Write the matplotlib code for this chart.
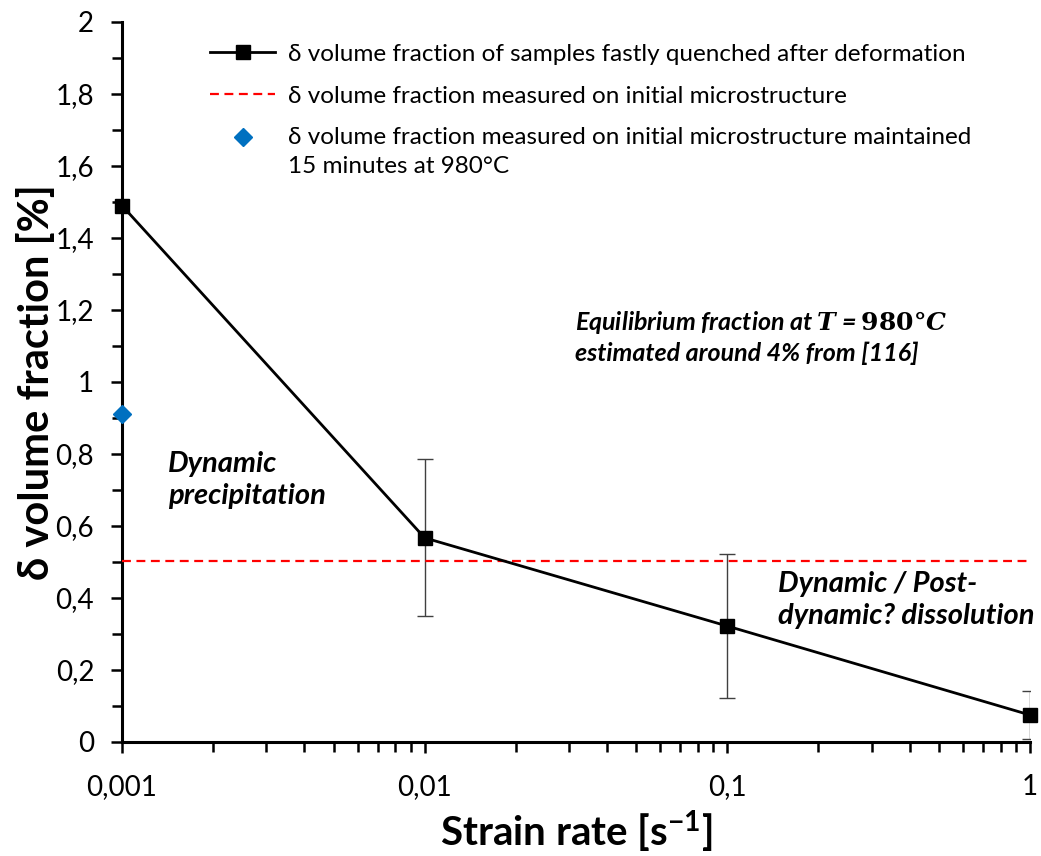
import matplotlib
matplotlib.use("Agg")
import matplotlib.pyplot as plt
from matplotlib.ticker import FixedLocator, MultipleLocator, LogLocator, NullFormatter
from matplotlib.legend_handler import HandlerLine2D

# Data
strain_rate = [0.001, 0.01, 0.1, 1]
delta_frac = [1.49, 0.567, 0.322, 0.075]
delta_err = [0.0, 0.218, 0.20, 0.068]
initial_frac = 0.504
held_rate = [0.001]
held_frac = [0.91]
x_ticks = [0.001, 0.01, 0.1, 1]
x_labels = ["0,001", "0,01", "0,1", "1"]
y_ticks = [0, 0.2, 0.4, 0.6, 0.8, 1.0, 1.2, 1.4, 1.6, 1.8, 2.0]
y_labels = ["0", "0,2", "0,4", "0,6", "0,8", "1", "1,2", "1,4", "1,6", "1,8", "2"]

plt.rcParams['font.family'] = ['Lato', 'DejaVu Sans']
plt.rcParams['mathtext.fontset'] = 'dejavuserif'


class ShiftedHandler(HandlerLine2D):
    def __init__(self, shift, **kw):
        super().__init__(**kw)
        self.shift = shift

    def create_artists(self, legend, orig_handle, xdescent, ydescent, width,
                       height, fontsize, trans):
        artists = super().create_artists(legend, orig_handle, xdescent, ydescent,
                                         width, height, fontsize, trans)
        for a in artists:
            a.set_ydata([y + self.shift for y in a.get_ydata()])
        return artists


fig = plt.figure(figsize=(10.41, 8.56), dpi=100)
ax = fig.add_axes([0.1172, 0.1332, 0.9894 - 0.1172, 0.9743 - 0.1332])
ax.set_xscale('log')
ax.set_xlim(0.001, 1)
ax.set_ylim(0, 2)

ax.errorbar(strain_rate[1:], delta_frac[1:], yerr=delta_err[1:], fmt='none',
            ecolor='#404040', elinewidth=1, capsize=6, capthick=1, zorder=2)
line_h, = ax.plot(strain_rate, delta_frac, color='black', lw=2, marker='s',
                  markersize=10, markerfacecolor='black', zorder=4, clip_on=False,
                  label="δ volume fraction of samples fastly quenched after deformation")
red_h = ax.axhline(initial_frac, color='red', lw=1.6, ls=(0, (4, 2.5)), zorder=3,
                   label="δ volume fraction measured on initial microstructure")
blue_h, = ax.plot(held_rate, held_frac, ls='none', marker='D', markersize=9,
                  color='#0070C0', zorder=5, clip_on=False,
                  label="δ volume fraction measured on initial microstructure maintained\n15 minutes at 980°C")

for s in ['top', 'right']:
    ax.spines[s].set_visible(False)
for s in ['left', 'bottom']:
    ax.spines[s].set_linewidth(2.2)

ax.xaxis.set_major_locator(FixedLocator(x_ticks))
ax.set_xticklabels(x_labels)
ax.xaxis.set_minor_locator(LogLocator(base=10, subs=range(2, 10)))
ax.xaxis.set_minor_formatter(NullFormatter())
ax.yaxis.set_major_locator(FixedLocator(y_ticks))
ax.set_yticklabels(y_labels)
ax.yaxis.set_minor_locator(MultipleLocator(0.1))
ax.tick_params(axis='both', which='major', direction='out', length=8, width=1.8,
               labelsize=20, colors='black')
ax.tick_params(axis='both', which='minor', direction='out', length=7, width=1.8)
ax.tick_params(axis='x', which='major', pad=15)
ax.tick_params(axis='y', which='major', pad=12)

ax.set_xlabel("Strain rate [s$^{\\mathregular{-1}}$]", fontsize=29, fontweight='bold', labelpad=6)
ax.set_ylabel("δ volume fraction [%]", fontsize=30, fontweight='bold', labelpad=0)

leg = ax.legend(handles=[line_h, red_h, blue_h], loc='upper left',
                bbox_to_anchor=(0.086, 0.983), borderaxespad=0, frameon=False,
                fontsize=17.5, handlelength=2.7, handletextpad=0.5,
                labelspacing=0.85, numpoints=1,
                handler_map={blue_h: ShiftedHandler(11)})
leg.get_texts()[2].set_linespacing(1.45)

ax.text(0.051, 0.364, "Dynamic\nprecipitation", fontsize=21, fontweight='bold',
        style='italic', ha='left', va='center', linespacing=1.3,
        transform=ax.transAxes)
ax.text(0.499, 0.5625, "Equilibrium fraction at $\\mathbfit{T}$ = $\\mathbf{980°}\\mathbfit{C}$\nestimated around 4% from [116]",
        fontsize=18, fontweight='bold', style='italic', ha='left', va='center',
        linespacing=1.3, transform=ax.transAxes)
ax.text(0.7225, 0.197, "Dynamic / Post-\ndynamic? dissolution", fontsize=21,
        fontweight='bold', style='italic', ha='left', va='center', linespacing=1.3,
        transform=ax.transAxes)

fig.savefig("out.png", dpi=100)
